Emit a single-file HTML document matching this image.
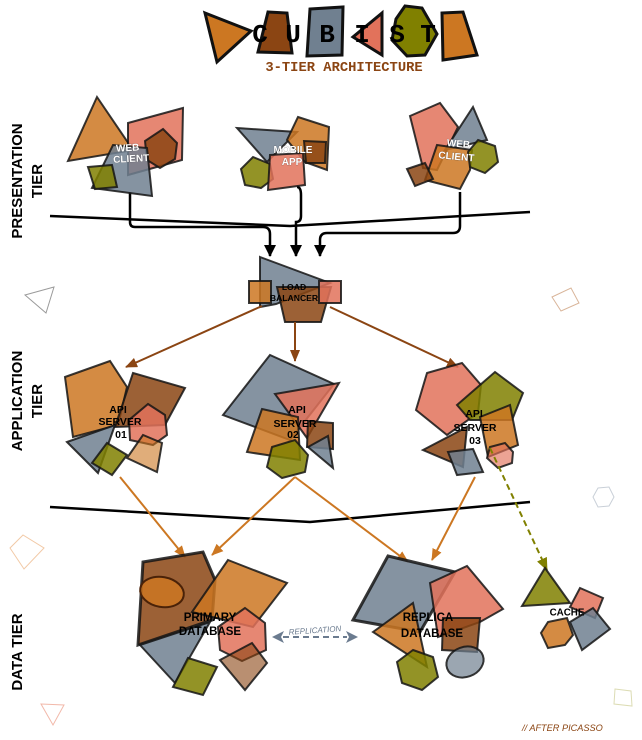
<!DOCTYPE html>
<html><head><meta charset="utf-8"><style>
html,body{margin:0;padding:0;background:#fff;}
svg{display:block;}
text{font-family:"Liberation Sans",sans-serif;}
.p{stroke:#151515;stroke-width:2;stroke-opacity:.85;fill-opacity:.85;stroke-linejoin:miter;}
.h{stroke:#111;stroke-width:3;stroke-linejoin:miter;}
.o{fill:#CC7722}.b{fill:#8B4513}.sl{fill:#708090}.sa{fill:#E2725B}.ol{fill:#808000}
.lbl{font-weight:bold;fill:#000;text-anchor:middle;}
.wl{font-weight:bold;fill:#fff;text-anchor:middle;font-size:10px;stroke:#333;stroke-width:.6;stroke-opacity:.5;paint-order:stroke;}
.tier{font-weight:bold;font-size:15px;fill:#000;text-anchor:middle;}
.cub{font-family:"Liberation Mono",monospace;font-weight:bold;font-size:26px;fill:#000;text-anchor:middle;}
.deco{fill:none;stroke-width:1;}
</style></head><body>
<svg width="642" height="740" viewBox="0 0 642 740" xmlns="http://www.w3.org/2000/svg">
<defs>
<marker id="aK" viewBox="0 0 12 12" refX="11" refY="6" markerWidth="12" markerHeight="12" markerUnits="userSpaceOnUse" orient="auto"><path d="M0,0 L12,6 L0,12 z" fill="#000"/></marker>
<marker id="aB" viewBox="0 0 12 10" refX="11" refY="5" markerWidth="12" markerHeight="10" markerUnits="userSpaceOnUse" orient="auto"><path d="M0,0 L12,5 L0,10 z" fill="#8B4513"/></marker>
<marker id="aO" viewBox="0 0 12 10" refX="11" refY="5" markerWidth="12" markerHeight="10" markerUnits="userSpaceOnUse" orient="auto"><path d="M0,0 L12,5 L0,10 z" fill="#CC7722"/></marker>
<marker id="aL" viewBox="0 0 12 10" refX="11" refY="5" markerWidth="13" markerHeight="11" markerUnits="userSpaceOnUse" orient="auto"><path d="M0,0 L12,5 L0,10 z" fill="#808000"/></marker>
</defs>

<!-- HEADER -->
<polygon class="h o" points="205,13 251,31 217,62"/>
<polygon class="h b" points="268,12 287,13 292,53 258,52"/>
<polygon class="h sl" points="310,9 343,7 342,55 307,56"/>
<polygon class="h sa" points="382,13 353,37 382,55"/>
<polygon class="h ol" points="405,6 422,8 437,34 425,55 407,56 392,40 396,19"/>
<polygon class="h o" points="442,13 463,12 477,55 443,60"/>
<text class="cub" x="260" y="42">C</text>
<text class="cub" x="293" y="42">U</text>
<text class="cub" x="327" y="42">B</text>
<text class="cub" x="362" y="42">I</text>
<text class="cub" x="397" y="42">S</text>
<text class="cub" x="428" y="42">T</text>
<text x="344" y="71" style="font-family:'Liberation Mono',monospace;font-weight:bold;font-size:13.8px;fill:#8B4513;text-anchor:middle;">3-TIER ARCHITECTURE</text>

<!-- TIER LABELS -->
<text class="tier" transform="translate(22,181) rotate(-90)">PRESENTATION</text>
<text class="tier" transform="translate(42,181) rotate(-90)">TIER</text>
<text class="tier" transform="translate(22,401) rotate(-90)">APPLICATION</text>
<text class="tier" transform="translate(42,401) rotate(-90)">TIER</text>
<text class="tier" transform="translate(22,652) rotate(-90)">DATA TIER</text>

<!-- DECORATIONS -->
<polygon class="deco" stroke="#9a9a9a" points="25,295 54,287 46,313"/>
<polygon class="deco" stroke="#d9b59a" points="552,297 571,288 579,303 561,311"/>
<polygon class="deco" stroke="#c9d0d8" points="593,497 598,488 609,487 614,497 609,506 598,507"/>
<polygon class="deco" stroke="#f2c9a6" points="10,548 23,535 44,548 24,569"/>
<polygon class="deco" stroke="#f2b9aa" points="41,704 64,705 53,725"/>
<polygon class="deco" stroke="#dcdcb4" points="615,689 631,691 632,706 614,704"/>

<!-- DIVIDERS -->
<polyline points="50,216 290,226 530,212" fill="none" stroke="#000" stroke-width="2.5"/>
<polyline points="50,507 310,522 530,502" fill="none" stroke="#000" stroke-width="2.5"/>

<!-- PRESENTATION CONNECTORS -->
<path d="M130,192 L130,222 Q130,227 135,227 L263,227 Q270,227 270,234 L270,256" fill="none" stroke="#000" stroke-width="2.5" marker-end="url(#aK)"/>
<path d="M297,187 Q301,187 301,195 L301,216 Q301,222 296,222 L296,256" fill="none" stroke="#000" stroke-width="2.5" marker-end="url(#aK)"/>
<path d="M460,192 L460,226 Q460,233 453,233 L327,233 Q320,233 320,240 L320,256" fill="none" stroke="#000" stroke-width="2.5" marker-end="url(#aK)"/>

<!-- WEB CLIENT 1 -->
<polygon class="p o" points="97,97 133,150 68,161"/>
<polygon class="p sa" points="128,123 183,108 182,160 128,175"/>
<polygon class="p b" points="163,129 177,143 175,159 160,168 147,160 145,141"/>
<polygon class="p sl" points="113,145 147,148 152,196 92,188"/>
<polygon class="p ol" points="88,167 112,165 117,187 95,189"/>
<g transform="rotate(-3 130 155)">
<text class="wl" x="128" y="151">WEB</text>
<text class="wl" x="131" y="162">CLIENT</text>
</g>

<!-- MOBILE APP -->
<polygon class="p sl" points="237,128 297,132 267,162"/>
<polygon class="p o" points="298,117 329,127 327,170 305,162 287,140"/>
<polygon class="p b" points="304,141 326,142 325,163 306,163"/>
<polygon class="p ol" points="253,157 270,164 273,179 261,188 245,185 241,169"/>
<polygon class="p sa" points="270,155 303,153 305,185 268,190"/>
<text class="wl" x="293" y="153">MOBILE</text>
<text class="wl" x="292" y="165">APP</text>

<!-- WEB CLIENT 3 -->
<polygon class="p sa" points="410,116 440,103 458,127 437,170 423,168"/>
<polygon class="p sl" points="473,107 487,140 445,150"/>
<polygon class="p o" points="437,145 472,150 470,170 460,189 425,180"/>
<polygon class="p ol" points="478,140 495,146 498,162 485,173 470,167 468,152"/>
<polygon class="p b" points="407,169 425,163 433,179 415,186"/>
<g transform="rotate(5 458 150)">
<text class="wl" x="458" y="147">WEB</text>
<text class="wl" x="457" y="160">CLIENT</text>
</g>

<!-- LOAD BALANCER -->
<polygon class="p sl" points="260,257 330,283 276,304 260,307"/>
<polygon class="p b" points="277,287 331,287 321,322 285,322"/>
<rect class="p o" x="249" y="281" width="22" height="22"/>
<rect class="p sa" x="319" y="281" width="22" height="22"/>
<text class="lbl" x="294" y="290" style="font-size:8.6px">LOAD</text>
<text class="lbl" x="294" y="301" style="font-size:8.6px">BALANCER</text>

<!-- LB ARROWS -->
<line x1="262" y1="306" x2="126" y2="367" stroke="#8B4513" stroke-width="2" marker-end="url(#aB)"/>
<line x1="295" y1="322" x2="295" y2="361" stroke="#8B4513" stroke-width="2" marker-end="url(#aB)"/>
<line x1="330" y1="307" x2="458" y2="367" stroke="#8B4513" stroke-width="2" marker-end="url(#aB)"/>

<!-- API SERVER 01 -->
<polygon class="p o" points="65,377 110,361 127,387 118,425 73,437"/>
<polygon class="p b" points="133,373 185,388 165,425 115,427"/>
<polygon class="p sa" points="148,404 165,415 167,435 153,445 130,440 129,420"/>
<polygon class="p sl" points="67,442 115,425 98,473"/>
<polygon class="p ol" points="92,463 107,443 127,455 112,475"/>
<polygon class="p o" style="fill-opacity:.6" points="127,458 143,435 162,443 157,472"/>
<text class="lbl" x="118" y="413" style="font-size:10.5px">API</text>
<text class="lbl" x="120" y="425" style="font-size:10.5px">SERVER</text>
<text class="lbl" x="121" y="438" style="font-size:10.5px">01</text>

<!-- API SERVER 02 -->
<polygon class="p sl" points="270,355 334,384 290,440 223,415"/>
<polygon class="p sa" points="275,394 339,383 307,438"/>
<polygon class="p o" points="262,409 298,417 300,460 247,452"/>
<polygon class="p b" points="308,421 333,423 333,449 307,447"/>
<polygon class="p sl" points="328,436 333,468 308,447"/>
<polygon class="p ol" points="272,447 295,440 308,455 305,472 282,478 267,467"/>
<text class="lbl" x="297" y="413" style="font-size:10.5px">API</text>
<text class="lbl" x="295" y="427" style="font-size:10.5px">SERVER</text>
<text class="lbl" x="293" y="438" style="font-size:10.5px">02</text>

<!-- API SERVER 03 -->
<polygon class="p sa" points="427,373 462,363 481,385 478,413 447,435 416,410"/>
<polygon class="p ol" points="457,405 495,372 523,393 512,420 470,420"/>
<polygon class="p o" points="480,417 510,405 518,445 488,457"/>
<polygon class="p b" points="423,450 467,427 463,467"/>
<polygon class="p sl" points="448,452 473,449 483,472 457,475"/>
<polygon class="p sa" style="fill-opacity:.65" points="490,447 505,443 513,452 512,463 498,468 487,458"/>
<text class="lbl" x="474" y="417" style="font-size:10.5px">API</text>
<text class="lbl" x="475" y="431" style="font-size:10.5px">SERVER</text>
<text class="lbl" x="475" y="444" style="font-size:10.5px">03</text>

<!-- SERVER -> DATA ARROWS -->
<line x1="120" y1="477" x2="185" y2="557" stroke="#CC7722" stroke-width="2" marker-end="url(#aO)"/>
<line x1="295" y1="477" x2="212" y2="555" stroke="#CC7722" stroke-width="2" marker-end="url(#aO)"/>
<line x1="295" y1="477" x2="408" y2="562" stroke="#CC7722" stroke-width="2" marker-end="url(#aO)"/>
<line x1="475" y1="477" x2="432" y2="560" stroke="#CC7722" stroke-width="2" marker-end="url(#aO)"/>
<line x1="490" y1="448" x2="547" y2="570" stroke="#808000" stroke-width="2" stroke-dasharray="6 4" marker-end="url(#aL)"/>

<!-- PRIMARY DATABASE -->
<polygon class="p b" style="stroke-width:3" points="143,562 203,552 215,580 212,620 138,645"/>
<ellipse cx="162" cy="592" rx="22" ry="15" transform="rotate(10 162 592)" fill="#CC7722" fill-opacity=".85" stroke="#4a2208" stroke-width="2"/>
<polygon class="p o" points="228,560 287,583 253,627 192,612"/>
<polygon class="p sl" points="140,645 210,622 175,683"/>
<polygon class="p sa" points="245,608 265,623 266,650 242,661 220,650 218,627"/>
<polygon class="p ol" points="188,658 217,667 203,695 173,687"/>
<polygon class="p b" style="fill-opacity:.6" points="220,660 252,643 267,663 245,690"/>
<text class="lbl" x="210" y="621" style="font-size:11.5px">PRIMARY</text>
<text class="lbl" x="210" y="635" style="font-size:11.5px">DATABASE</text>

<!-- REPLICATION -->
<line x1="283" y1="637" x2="347" y2="637" stroke="#6b7b8f" stroke-width="2" stroke-dasharray="6 4"/>
<polygon fill="#6b7b8f" points="272,637 284,631 281,637 284,643"/>
<polygon fill="#6b7b8f" points="358,637 346,631 349,637 346,643"/>
<text x="315" y="633" transform="rotate(-4 315 631)" style="font-size:8px;font-style:italic;fill:#6b7b8f;text-anchor:middle;">REPLICATION</text>

<!-- REPLICA DATABASE -->
<polygon class="p sl" style="stroke-width:3" points="388,556 455,572 420,632 353,620"/>
<polygon class="p sa" points="430,583 467,566 503,609 480,622 438,637"/>
<polygon class="p o" points="373,632 413,603 427,667"/>
<polygon class="p b" points="443,618 480,618 477,652 442,650"/>
<polygon class="p ol" points="413,650 433,657 438,677 422,690 402,683 397,662"/>
<ellipse cx="465" cy="662" rx="19" ry="15" transform="rotate(-20 465 662)" fill="#708090" fill-opacity=".7" stroke="#151515" stroke-opacity=".85" stroke-width="2"/>
<text class="lbl" x="428" y="621" style="font-size:11.5px">REPLICA</text>
<text class="lbl" x="432" y="637" style="font-size:11.5px">DATABASE</text>

<!-- CACHE -->
<polygon class="p ol" points="545,568 570,603 522,606"/>
<polygon class="p sa" points="580,588 603,598 595,618 570,607"/>
<polygon class="p sl" points="570,622 593,608 610,629 582,650"/>
<polygon class="p o" points="548,622 567,618 573,635 565,645 548,648 541,633"/>
<text class="lbl" x="567" y="615.5" style="font-size:9.8px">CACHE</text>

<text x="522" y="731" style="font-size:9.2px;font-style:italic;fill:#8B4513;">// AFTER PICASSO</text>
</svg>
</body></html>
